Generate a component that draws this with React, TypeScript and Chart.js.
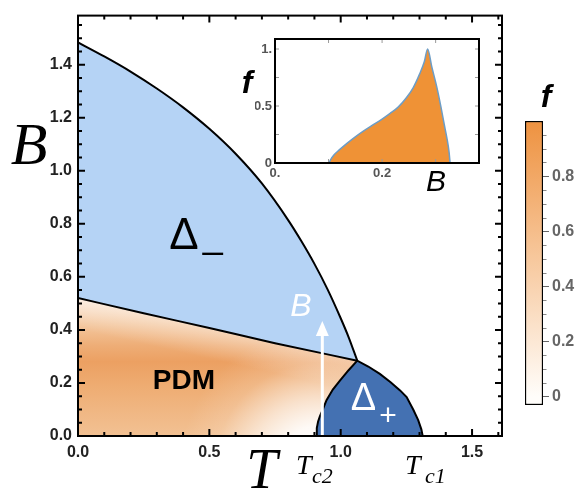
import React, { useEffect, useRef } from 'react';
import { Chart, registerables } from 'chart.js';

Chart.register(...registerables);

// ---------------- data ----------------
// upper phase boundary (Δ- / normal)
const upperT = [0, 0.1, 0.2, 0.3, 0.4, 0.5, 0.6, 0.7, 0.8, 0.85, 0.9, 0.95, 1.0, 1.03, 1.063];
const upperB = [1.484, 1.431, 1.374, 1.31, 1.239, 1.158, 1.064, 0.952, 0.814, 0.735, 0.649, 0.553, 0.444, 0.373, 0.284];
// PDM / Δ- boundary
const lowerT = [0, 0.25, 0.5, 0.75, 1.063];
const lowerB = [0.52, 0.463, 0.407, 0.35, 0.284];
// Δ+ dome (Tc2 -> triple point -> Tc1)
const plusT = [0.907, 0.909, 0.914, 0.921, 0.932, 0.946, 0.97, 0.997, 1.03, 1.063, 1.105, 1.149, 1.19, 1.226, 1.251, 1.276, 1.295, 1.307, 1.312];
const plusB = [0, 0.03, 0.055, 0.075, 0.1, 0.135, 0.175, 0.209, 0.248, 0.284, 0.262, 0.234, 0.203, 0.172, 0.147, 0.1, 0.06, 0.025, 0];
// white arrow along B
const arrowT = 0.93;
const arrowTopB = 0.434;

const xTicks = [0, 0.5, 1.0, 1.5];
const xTickLabels = ['0.0', '0.5', '1.0', '1.5'];
const yTicks = [0, 0.2, 0.4, 0.6, 0.8, 1.0, 1.2, 1.4];
const yTickLabels = ['0.0', '0.2', '0.4', '0.6', '0.8', '1.0', '1.2', '1.4'];

// inset f(B)
const insetB = [0.101, 0.104, 0.11, 0.12, 0.135, 0.15, 0.165, 0.18, 0.2, 0.215, 0.23, 0.245, 0.258, 0.27, 0.279, 0.285, 0.293, 0.302, 0.31, 0.316, 0.321, 0.325, 0.327];
const insetF = [0, 0.03, 0.07, 0.115, 0.175, 0.23, 0.28, 0.325, 0.385, 0.435, 0.49, 0.57, 0.66, 0.78, 0.89, 1.0, 0.84, 0.67, 0.49, 0.34, 0.22, 0.1, 0];
const insetXTicks = [0, 0.2];
const insetXLabels = ['0.', '0.2'];
const insetYTicks = [0, 0.5, 1];
const insetYLabels = ['0', '0.5', '1.'];

// colour bar
const cbRange = [-0.03, 1.0];
const cbTicks = [0, 0.2, 0.4, 0.6, 0.8];
const cbLabels = ['0', '0.2', '0.4', '0.6', '0.8'];

// ---------------- styles ----------------
const SANS = '"Liberation Sans", Arial, Helvetica, sans-serif';
const SERIF = '"Liberation Serif", "Times New Roman", serif';
const DMINUS = '#b5d3f5';
const DPLUS = '#4471b2';
const ORANGE = '#ef9236';
const CLEAR = 'rgba(0,0,0,0)';

const pts = (xs: number[], ys: number[]) => xs.map((x, i) => ({ x, y: ys[i] }));

function txt(ctx: CanvasRenderingContext2D, s: string, x: number, y: number, font: string, color: string, align: CanvasTextAlign = 'center') {
  ctx.font = font;
  ctx.fillStyle = color;
  ctx.textAlign = align;
  ctx.textBaseline = 'alphabetic';
  ctx.fillText(s, x, y);
}

function tickMarks(chart: any, xs: { v: number[]; len: number }[], ys: { v: number[]; len: number }[], color: string, width: number) {
  const { ctx, chartArea: a, scales } = chart;
  ctx.save();
  ctx.strokeStyle = color;
  ctx.lineWidth = width;
  ctx.beginPath();
  xs.forEach(({ v, len }) => v.forEach((val) => {
    const px = scales.x.getPixelForValue(val);
    ctx.moveTo(px, a.bottom); ctx.lineTo(px, a.bottom - len);
    ctx.moveTo(px, a.top); ctx.lineTo(px, a.top + len);
  }));
  ys.forEach(({ v, len }) => v.forEach((val) => {
    const py = scales.y.getPixelForValue(val);
    ctx.moveTo(a.left, py); ctx.lineTo(a.left + len, py);
    ctx.moveTo(a.right, py); ctx.lineTo(a.right - len, py);
  }));
  ctx.stroke();
  ctx.restore();
}

function steps(from: number, to: number, step: number, skip: number) {
  const out: number[] = [];
  for (let v = from; v <= to + 1e-9; v += step) {
    const r = Math.round(v * 1000) / 1000;
    if (Math.abs(r / skip - Math.round(r / skip)) > 1e-6) out.push(r);
  }
  return out;
}

// ---------------- gradients ----------------
const pdmGradient = (c: any) => {
  const ch = c.chart;
  if (!ch.chartArea) return CLEAR;
  const y = ch.scales.y;
  const y0 = y.getPixelForValue(0);
  const y1 = y.getPixelForValue(0.52);
  const g = ch.ctx.createLinearGradient(0, y0, 0, y1);
  const stops: [number, string][] = [
    [0, '#f2c193'], [0.1, '#f0b682'], [0.2, '#eeab70'], [0.28, '#eca062'],
    [0.34, '#eead76'], [0.42, '#f3c69d'], [0.5, '#f9dfc8'], [0.52, '#fbe7d6'],
  ];
  stops.forEach(([b, col]) => g.addColorStop(b / 0.52, col));
  return g;
};

const lineHaze = (c: any) => {
  const ch = c.chart;
  if (!ch.chartArea) return CLEAR;
  const { x, y } = ch.scales;
  const ax = x.getPixelForValue(lowerT[0]), ay = y.getPixelForValue(lowerB[0]);
  const bx = x.getPixelForValue(lowerT[lowerT.length - 1]), by = y.getPixelForValue(lowerB[lowerB.length - 1]);
  const dx = bx - ax, dy = by - ay, n = Math.hypot(dx, dy);
  const nx = -dy / n, ny = dx / n;
  const mx = x.getPixelForValue(0.5), my = y.getPixelForValue(0.407);
  const g = ch.ctx.createLinearGradient(mx, my, mx + nx * 30, my + ny * 30);
  g.addColorStop(0, 'rgba(255,255,255,0.38)');
  g.addColorStop(1, 'rgba(255,255,255,0)');
  return g;
};

const radialHaze = (c: any) => {
  const ch = c.chart;
  if (!ch.chartArea) return CLEAR;
  const { x, y } = ch.scales;
  const cx = x.getPixelForValue(0.92), cy = y.getPixelForValue(-0.12);
  const g = ch.ctx.createRadialGradient(cx, cy, 0, cx, cy, 140);
  g.addColorStop(0, 'rgba(255,255,255,1)');
  g.addColorStop(0.3, 'rgba(255,255,255,0.92)');
  g.addColorStop(0.5, 'rgba(255,255,255,0.6)');
  g.addColorStop(0.75, 'rgba(255,255,255,0.15)');
  g.addColorStop(1, 'rgba(255,255,255,0)');
  return g;
};

const cbGradient = (c: any) => {
  const ch = c.chart;
  if (!ch.chartArea) return CLEAR;
  const y = ch.scales.y;
  const g = ch.ctx.createLinearGradient(0, y.getPixelForValue(0), 0, y.getPixelForValue(1));
  g.addColorStop(0, '#fffdfa');
  g.addColorStop(0.5, '#f7c89d');
  g.addColorStop(1, '#ee9240');
  return g;
};

// ---------------- plugins ----------------
const mainPlugin = {
  id: 'mainDecor',
  afterDatasetsDraw(chart: any) {
    const { ctx, chartArea: a, scales: { x, y } } = chart;
    ctx.save();
    // arrow
    const ax = x.getPixelForValue(arrowT);
    const ay0 = y.getPixelForValue(0);
    const ay1 = y.getPixelForValue(arrowTopB);
    ctx.strokeStyle = '#fff';
    ctx.lineWidth = 3;
    ctx.beginPath(); ctx.moveTo(ax, ay0); ctx.lineTo(ax, ay1 + 12); ctx.stroke();
    ctx.fillStyle = '#fff';
    ctx.beginPath(); ctx.moveTo(ax, ay1); ctx.lineTo(ax - 6.5, ay1 + 15); ctx.lineTo(ax + 6.5, ay1 + 15); ctx.closePath(); ctx.fill();

    // region labels
    txt(ctx, 'Δ', x.getPixelForValue(0.403), y.getPixelForValue(0.7065), `44px ${SANS}`, '#000');
    txt(ctx, '_', x.getPixelForValue(0.403) + 19, y.getPixelForValue(0.7065) - 1, `36px ${SANS}`, '#000', 'left');
    txt(ctx, 'PDM', x.getPixelForValue(0.403), y.getPixelForValue(0.179), `bold 28px ${SANS}`, '#000');
    txt(ctx, 'B', x.getPixelForValue(0.849), y.getPixelForValue(0.452), `italic 32px ${SANS}`, '#fff');
    txt(ctx, 'Δ', x.getPixelForValue(1.087), y.getPixelForValue(0.097), `38px ${SANS}`, '#fff');
    txt(ctx, '+', x.getPixelForValue(1.18), y.getPixelForValue(0.041), `30px ${SANS}`, '#fff');

    // ticks and frame
    tickMarks(chart,
      [{ v: xTicks, len: 7 }, { v: steps(0.1, 1.6, 0.1, 0.5), len: 4 }],
      [{ v: yTicks, len: 7 }, { v: steps(0.05, 1.55, 0.05, 0.2), len: 4 }],
      '#000', 2);
    ctx.strokeStyle = '#000';
    ctx.lineWidth = 2;
    ctx.strokeRect(a.left, a.top, a.right - a.left, a.bottom - a.top);

    // axis titles
    txt(ctx, 'B', a.left - 49, y.getPixelForValue(1.025), `italic 60px ${SERIF}`, '#000');
    txt(ctx, 'T', x.getPixelForValue(0.70), chart.height - 1, `italic 56px ${SERIF}`, '#000');
    txt(ctx, 'T', x.getPixelForValue(0.83), 474, `italic 28px ${SERIF}`, '#000', 'left');
    txt(ctx, 'c2', x.getPixelForValue(0.891), 483, `italic 22px ${SERIF}`, '#000', 'left');
    txt(ctx, 'T', x.getPixelForValue(1.245), 474, `italic 28px ${SERIF}`, '#000', 'left');
    txt(ctx, 'c1', x.getPixelForValue(1.321), 483, `italic 22px ${SERIF}`, '#000', 'left');
    ctx.restore();
  },
};

const insetPlugin = {
  id: 'insetDecor',
  afterDatasetsDraw(chart: any) {
    const { ctx, chartArea: a } = chart;
    ctx.save();
    tickMarks(chart, [{ v: [0.1, 0.2, 0.3], len: 4 }], [{ v: [0.25, 0.5, 0.75, 1], len: 4 }], '#9a9a9a', 1);
    ctx.strokeStyle = '#000';
    ctx.lineWidth = 2;
    ctx.strokeRect(a.left, a.top, a.right - a.left, a.bottom - a.top);
    txt(ctx, 'f', a.left - 28, a.top + 54, `bold italic 32px ${SANS}`, '#000');
    txt(ctx, 'B', a.right - 43, a.bottom + 28, `italic 30px ${SANS}`, '#000');
    ctx.restore();
  },
};

const cbPlugin = {
  id: 'cbDecor',
  afterDatasetsDraw(chart: any) {
    const { ctx, chartArea: a, scales: { y } } = chart;
    ctx.save();
    ctx.strokeStyle = '#888';
    ctx.lineWidth = 1;
    ctx.beginPath();
    steps(0.05, 0.95, 0.05, 0.2).forEach((v) => {
      const py = Math.round(y.getPixelForValue(v)) + 0.5;
      ctx.moveTo(a.right, py); ctx.lineTo(a.right + 3.5, py);
    });
    ctx.stroke();
    txt(ctx, 'f', (a.left + a.right) / 2 + 12, a.top - 14, `bold italic 32px ${SANS}`, '#000');
    ctx.restore();
  },
};

// ---------------- configs ----------------
const baseOpts = {
  responsive: false,
  animation: false as const,
  devicePixelRatio: 1,
  events: [] as any[],
  plugins: { legend: { display: false }, tooltip: { enabled: false } },
  elements: { point: { radius: 0 } },
};

function mainConfig(): any {
  const upper = pts(upperT, upperB);
  const lower = pts(lowerT, lowerB);
  const plus = pts(plusT, plusB);
  const tickFont = { family: SANS, size: 16, weight: 'bold' as const };
  return {
    type: 'line',
    data: {
      datasets: [
        { data: lower, fill: false, borderColor: '#000', borderWidth: 2, cubicInterpolationMode: 'monotone', order: 1 },
        { data: plus, fill: 'origin', backgroundColor: DPLUS, borderColor: '#000', borderWidth: 2, tension: 0, order: 2 },
        { data: lower, fill: 'origin', backgroundColor: radialHaze, borderColor: CLEAR, borderWidth: 1, cubicInterpolationMode: 'monotone', order: 3 },
        { data: lower, fill: 'origin', backgroundColor: lineHaze, borderColor: CLEAR, borderWidth: 1, cubicInterpolationMode: 'monotone', order: 4 },
        { data: lower, fill: 'origin', backgroundColor: pdmGradient, borderColor: CLEAR, borderWidth: 1, cubicInterpolationMode: 'monotone', order: 5 },
        { data: upper, fill: 'origin', backgroundColor: DMINUS, borderColor: '#000', borderWidth: 2, cubicInterpolationMode: 'monotone', order: 6 },
      ],
    },
    options: {
      ...baseOpts,
      layout: { padding: { left: 8, top: 12, right: 83, bottom: 23 } },
      scales: {
        x: {
          type: 'linear', min: 0, max: 1.614,
          grid: { display: false, drawTicks: false }, border: { display: false },
          afterBuildTicks: (s: any) => { s.ticks = xTicks.map((v) => ({ value: v })); },
          afterFit: (s: any) => { s.height = 30; },
          ticks: { autoSkip: false, maxRotation: 0, padding: 7, color: '#222', font: tickFont, callback: (_v: any, i: number) => xTickLabels[i] },
        },
        y: {
          type: 'linear', min: 0, max: 1.585,
          grid: { display: false, drawTicks: false }, border: { display: false },
          afterBuildTicks: (s: any) => { s.ticks = yTicks.map((v) => ({ value: v })); },
          afterFit: (s: any) => { s.width = 70; },
          ticks: { autoSkip: false, padding: 6, color: '#222', font: tickFont, callback: (_v: any, i: number) => yTickLabels[i] },
        },
      },
    },
    plugins: [mainPlugin],
  };
}

function insetConfig(): any {
  const font = { family: SANS, size: 13, weight: 'bold' as const };
  return {
    type: 'line',
    data: {
      datasets: [
        { data: pts(insetB, insetF), fill: 'origin', backgroundColor: ORANGE, borderColor: '#6d9dc6', borderWidth: 1.5, cubicInterpolationMode: 'monotone' },
      ],
    },
    options: {
      ...baseOpts,
      layout: { padding: { left: 255, top: 39, right: 106, bottom: 306 } },
      scales: {
        x: {
          type: 'linear', min: 0, max: 0.381,
          grid: { display: false, drawTicks: false }, border: { display: false },
          afterBuildTicks: (s: any) => { s.ticks = insetXTicks.map((v) => ({ value: v })); },
          afterFit: (s: any) => { s.height = 20; },
          ticks: { autoSkip: false, maxRotation: 0, padding: 3, color: '#555', font, callback: (_v: any, i: number) => insetXLabels[i] },
        },
        y: {
          type: 'linear', min: 0, max: 1.088,
          grid: { display: false, drawTicks: false }, border: { display: false },
          afterBuildTicks: (s: any) => { s.ticks = insetYTicks.map((v) => ({ value: v })); },
          afterFit: (s: any) => { s.width = 20; },
          ticks: { autoSkip: false, padding: 3, color: '#555', font, callback: (_v: any, i: number) => insetYLabels[i] },
        },
      },
    },
    plugins: [insetPlugin],
  };
}

function cbConfig(): any {
  return {
    type: 'bar',
    data: {
      labels: ['f'],
      datasets: [
        { data: [cbRange], backgroundColor: cbGradient, borderColor: '#000', borderWidth: 1.5, borderSkipped: false, barPercentage: 1, categoryPercentage: 1 },
      ],
    },
    options: {
      ...baseOpts,
      layout: { padding: { left: 525, top: 121, right: 2, bottom: 84 } },
      scales: {
        x: { display: false },
        y: {
          position: 'right', min: cbRange[0], max: cbRange[1],
          grid: { drawOnChartArea: false, drawTicks: true, tickLength: 6, color: '#666', lineWidth: 1 },
          border: { display: false },
          afterBuildTicks: (s: any) => { s.ticks = cbTicks.map((v) => ({ value: v })); },
          afterFit: (s: any) => { s.width = 40; },
          ticks: { autoSkip: false, padding: 3, color: '#666', font: { family: SANS, size: 16, weight: 'bold' }, callback: (_v: any, i: number) => cbLabels[i] },
        },
      },
    },
    plugins: [cbPlugin],
  };
}

export default function App() {
  const mainRef = useRef<HTMLCanvasElement>(null);
  const insetRef = useRef<HTMLCanvasElement>(null);
  const cbRef = useRef<HTMLCanvasElement>(null);

  useEffect(() => {
    const charts = [
      new Chart(mainRef.current as HTMLCanvasElement, mainConfig()),
      new Chart(insetRef.current as HTMLCanvasElement, insetConfig()),
      new Chart(cbRef.current as HTMLCanvasElement, cbConfig()),
    ];
    return () => charts.forEach((c) => c.destroy());
  }, []);

  const cs: React.CSSProperties = { position: 'absolute', left: 0, top: 0 };
  return (
    <div style={{ position: 'absolute', left: 0, top: 0, width: 585, height: 489, background: '#fff', overflow: 'hidden' }}>
      <canvas ref={mainRef} width={585} height={489} style={cs} />
      <canvas ref={insetRef} width={585} height={489} style={cs} />
      <canvas ref={cbRef} width={585} height={489} style={cs} />
    </div>
  );
}
